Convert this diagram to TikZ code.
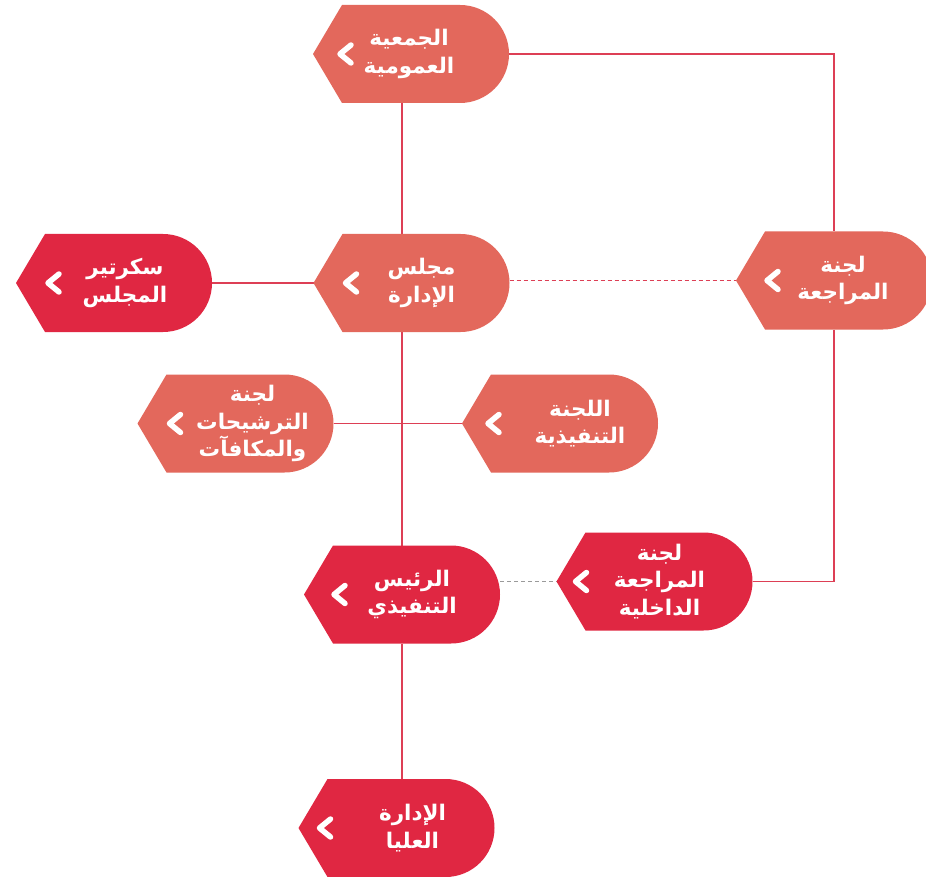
\documentclass[tikz,border=0pt]{standalone}
\usepackage{fontspec}
\usetikzlibrary{backgrounds}
\TeXXeTstate=1
\newfontfamily\arabicfont[Script=Arabic]{DejaVu Sans}
\definecolor{coral}{HTML}{E3685C}
\definecolor{crimson}{HTML}{E02742}
\definecolor{linered}{HTML}{DD3F55}
\definecolor{linegray}{HTML}{9A9A9A}
\newcommand\ar[1]{\beginR #1\endR}
\tikzset{
 geom/.style={minimum width=196pt, minimum height=98pt, inner sep=0pt, outer sep=0pt},
 lbl/.style={text=white, font=\arabicfont\bfseries\fontsize{21.5}{27.5}\selectfont, align=center, inner sep=0pt},
 chev/.style={white, line width=5.5pt, line cap=round, line join=round},
 conn/.style={linered, line width=1.3pt},
 dashconn/.style={linered, line width=1.3pt, dash pattern=on 4pt off 3pt},
 grayconn/.style={linegray, line width=1.2pt, dash pattern=on 4pt off 3pt},
}
\newcommand\orgnode[7]{%
  \node[geom] (#1) at (#2,#3) {};
  \fill[#4] (#1.west) -- ([xshift=29pt]#1.north west) -- ([xshift=-49pt]#1.north east) arc[start angle=90,end angle=-90,radius=49pt] -- ([xshift=29pt]#1.south west) -- cycle;
  \draw[chev] ([xshift=#5+11pt,yshift=9pt]#1.west) -- ([xshift=#5]#1.west) -- ([xshift=#5+11pt,yshift=-9pt]#1.west);
  \node[lbl] (#1-t) at ([xshift=#6]#1.center) {#7};
}
\begin{document}
\begin{tikzpicture}[x=1pt,y=-1pt]
\useasboundingbox (0,0) rectangle (926,877);
\orgnode{n1}{411}{54}{coral}{27pt}{-2pt}{\ar{الجمعية}\\\ar{العمومية}}
\orgnode{n2}{114}{283}{crimson}{32pt}{11pt}{\ar{سكرتير}\\\ar{المجلس}}
\orgnode{n3}{411.5}{283}{coral}{32pt}{10pt}{\ar{مجلس}\\\ar{الإدارة}}
\orgnode{n4}{834}{280.5}{coral}{31pt}{9pt}{\ar{لجنة}\\\ar{المراجعة}}
\orgnode{n5}{235.5}{423.5}{coral}{32pt}{17pt}{\ar{لجنة}\\\ar{الترشيحات}\\\ar{والمكافآت}}
\orgnode{n6}{560}{423.5}{coral}{26pt}{20pt}{\ar{اللجنة}\\\ar{التنفيذية}}
\orgnode{n7}{402}{594.5}{crimson}{30pt}{10pt}{\ar{الرئيس}\\\ar{التنفيذي}}
\orgnode{n8}{654.5}{581.5}{crimson}{19pt}{5pt}{\ar{لجنة}\\\ar{المراجعة}\\\ar{الداخلية}}
\orgnode{n9}{396.5}{828}{crimson}{21pt}{16pt}{\ar{الإدارة}\\\ar{العليا}}
\begin{scope}[on background layer]
\fill[white] (0,0) rectangle (926,877);
\draw[conn] (n1.south -| n7) -- (n3.north -| n7);
\draw[conn] (n3.south -| n7) -- (n7.north);
\draw[conn] (n7.south) -- (n9.north -| n7);
\draw[conn] (n1.east) -| (n4.north);
\draw[conn] (n4.south) |- (n8.east);
\draw[conn] (n2.east) -- (n3.west);
\draw[dashconn] (n4.west -| n3.east) -- (n4.west);
\draw[conn] (n5.east) -- (n6.west);
\draw[grayconn] (n8.west -| n7.east) -- (n8.west);
\end{scope}
\end{tikzpicture}
\end{document}
